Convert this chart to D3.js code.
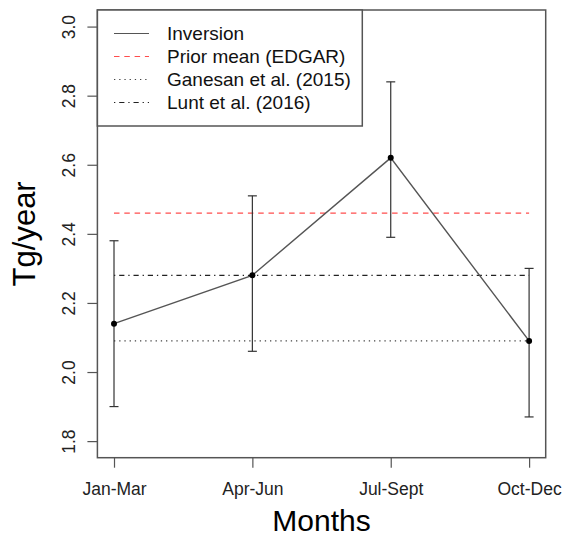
<!DOCTYPE html>
<html><head><meta charset="utf-8">
<script src="https://cdn.jsdelivr.net/npm/d3@7"></script>
<style>body{margin:0;background:#fff}svg{display:block}text{font-family:"Liberation Sans",Arial,sans-serif}</style>
</head><body><svg id="c" width="562" height="537"></svg>
<script>
const categories = ["Jan-Mar", "Apr-Jun", "Jul-Sept", "Oct-Dec"];
const inversion = [2.14, 2.28, 2.62, 2.09];
const lower = [1.90, 2.06, 2.39, 1.87];
const upper = [2.38, 2.51, 2.84, 2.30];
const priorMean = 2.46;
const ganesan = 2.09;
const lunt = 2.28;
const yTicks = [1.8, 2.0, 2.2, 2.4, 2.6, 2.8, 3.0];
const legendLabels = ["Inversion", "Prior mean (EDGAR)", "Ganesan et al. (2015)", "Lunt et al. (2016)"];

const svg = d3.select("#c");
const L = 97.4, R = 545.7, T = 10, B = 457.7;
const x = d3.scaleLinear().domain([0.88, 4.12]).range([L, R]);
const y = d3.scaleLinear().domain([1.752, 3.048]).range([B, T]);
const idx = categories.map((c, i) => i + 1);
const axisCol = "#555";

// horizontal reference lines
const refs = [
  {v: priorMean, col: "#ff4d4d", dash: "5.5,4.8"},
  {v: ganesan, col: "#444", dash: "1.3,3.9"},
  {v: lunt, col: "#222", dash: "1.3,3.9,5.2,3.9"}
];
svg.selectAll("line.ref").data(refs).join("line").attr("class", "ref")
  .attr("x1", x(1)).attr("x2", x(4)).attr("y1", d => y(d.v)).attr("y2", d => y(d.v))
  .attr("stroke", d => d.col).attr("stroke-width", 1.2).attr("stroke-dasharray", d => d.dash);

// error bars
const eb = svg.append("g").attr("stroke", "#333").attr("stroke-width", 1.2);
idx.forEach((k, i) => {
  eb.append("line").attr("x1", x(k)).attr("x2", x(k)).attr("y1", y(lower[i])).attr("y2", y(upper[i]));
  eb.append("line").attr("x1", x(k) - 4.5).attr("x2", x(k) + 4.5).attr("y1", y(lower[i])).attr("y2", y(lower[i]));
  eb.append("line").attr("x1", x(k) - 4.5).attr("x2", x(k) + 4.5).attr("y1", y(upper[i])).attr("y2", y(upper[i]));
});

// inversion line and points
svg.append("path").datum(inversion)
  .attr("d", d3.line().x((d, i) => x(i + 1)).y(d => y(d)))
  .attr("fill", "none").attr("stroke", "#555").attr("stroke-width", 1.4);
svg.selectAll("circle.pt").data(inversion).join("circle").attr("class", "pt")
  .attr("cx", (d, i) => x(i + 1)).attr("cy", d => y(d)).attr("r", 3).attr("fill", "#000");

// box
svg.append("rect").attr("x", L).attr("y", T).attr("width", R - L).attr("height", B - T)
  .attr("fill", "none").attr("stroke", axisCol).attr("stroke-width", 1.5);

// x axis
const xa = svg.append("g").attr("transform", `translate(0,${B})`)
  .call(d3.axisBottom(x).tickValues(idx).tickFormat((d) => categories[d - 1]).tickSize(10).tickPadding(8));
xa.select(".domain").remove();
xa.selectAll("line").attr("stroke", axisCol).attr("stroke-width", 1.2);
xa.selectAll("text").attr("font-size", 17.5).attr("fill", "#222")
  .attr("dy", null).attr("y", 37);

// y axis
const ya = svg.append("g").attr("transform", `translate(${L},0)`)
  .call(d3.axisLeft(y).tickValues(yTicks).tickFormat(d3.format(".1f")).tickSize(10));
ya.select(".domain").remove();
ya.selectAll("line").attr("stroke", axisCol).attr("stroke-width", 1.2);
ya.selectAll("text").attr("font-size", 17.5).attr("fill", "#222")
  .attr("x", null).attr("dy", null)
  .attr("transform", "translate(-22,0) rotate(-90)").attr("text-anchor", "middle").attr("y", 0);

// axis titles
svg.append("text").attr("x", (L + R) / 2).attr("y", 530.5).attr("text-anchor", "middle")
  .attr("font-size", 30).attr("fill", "#000").text("Months");
svg.append("text").attr("transform", `translate(35,${(T + B) / 2}) rotate(-90)`).attr("text-anchor", "middle")
  .attr("font-size", 31).attr("fill", "#000").text("Tg/year");

// legend
svg.append("rect").attr("x", L).attr("y", T).attr("width", 362.3 - L).attr("height", 126 - T)
  .attr("fill", "#fff").attr("stroke", axisCol).attr("stroke-width", 1.5);
const legStyles = [
  {col: "#555", dash: null},
  {col: "#ff4d4d", dash: "5.5,4.8"},
  {col: "#444", dash: "1.3,3.9"},
  {col: "#222", dash: "1.3,3.9,5.2,3.9"}
];
legendLabels.forEach((lab, i) => {
  const yy = 33.5 + i * 23;
  svg.append("line").attr("x1", 114).attr("x2", 149).attr("y1", yy).attr("y2", yy)
    .attr("stroke", legStyles[i].col).attr("stroke-width", 1.2).attr("stroke-dasharray", legStyles[i].dash);
  svg.append("text").attr("x", 167).attr("y", yy + 6.8).attr("font-size", 19).attr("fill", "#111").text(lab);
});
</script></body></html>
